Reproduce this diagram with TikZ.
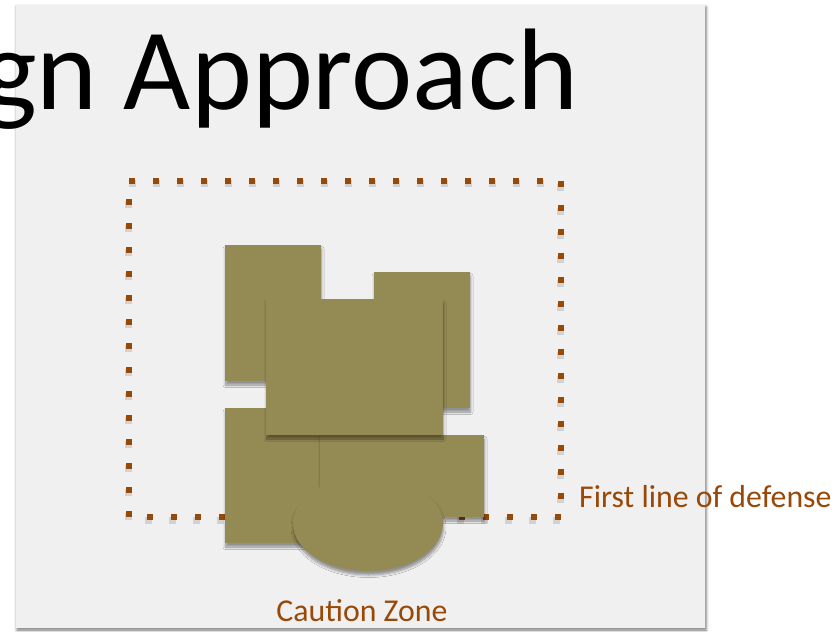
\documentclass[tikz,border=0pt]{standalone}
\usepackage{fontspec}
\setmainfont{Carlito}
\usetikzlibrary{shadows.blur}
\definecolor{oliv}{HTML}{948A54}
\definecolor{rost}{HTML}{984807}
\definecolor{blatt}{HTML}{F0F0F0}
\tikzset{
  folie/.style={fill=blatt,blur shadow={shadow xshift=1bp,shadow yshift=-2bp,shadow blur radius=3bp,shadow opacity=55}},
  block/.style={fill=oliv,blur shadow={shadow xshift=0.5bp,shadow yshift=-4bp,shadow blur radius=2.5bp,shadow blur steps=6,shadow opacity=40}},
  punkte/.style={rost,line width=6bp,dash pattern=on 6bp off 18bp},
  punkteschatten/.style={black,opacity=0.12,line width=7bp,dash pattern=on 7bp off 17bp},
  beschr/.style={rost,font=\fontsize{31.8bp}{38bp}\selectfont,inner sep=0pt},
}

\begin{document}
\begin{tikzpicture}[x=1bp,y=-1bp]
  \useasboundingbox (0,0) rectangle (840,632);
  \clip (0,0) rectangle (840,632);
  % Folie
  \fill[folie] (16,5) rectangle (705,628);
  \node[anchor=base west,inner sep=0pt,font=\fontsize{116bp}{120bp}\selectfont] (titel) at (-18,110) {gn Approach};
  % gepunkteter Rahmen
  \draw[punkteschatten] (128.5,184) -- (560.5,184) -- (560.5,520) -- (128.5,520) -- cycle;
  \draw[punkte] (129,181) -- (561,181) -- (561,517) -- (129,517) -- cycle;
  % Bloecke
  \fill[block] (225,245) rectangle (321,381);
  \fill[block] (374,272) rectangle (470,408);
  \fill[block] (225,408) rectangle (321,543);
  \fill[block] (320,435) rectangle (484,517);
  \fill[block] (266,299) rectangle (443,435);
  \fill[block] (368,523.5) ellipse [x radius=75bp,y radius=47.5bp];
  % Beschriftung
  \node[beschr,anchor=base west] (linie) at (579,507) {First line of defense};
  \node[beschr,anchor=base] (zone) at (362,621) {Caution Zone};
\end{tikzpicture}
\end{document}
